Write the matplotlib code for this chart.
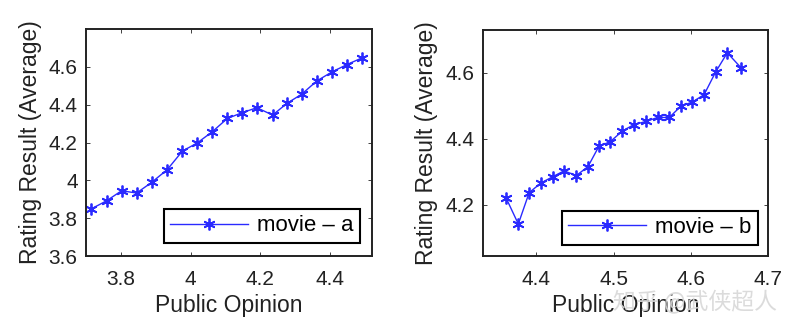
import matplotlib
matplotlib.use("Agg")
import matplotlib.pyplot as plt

plt.rcParams["font.family"] = ["Liberation Sans", "DejaVu Sans"]

# movie - a
opinion_a = [3.714, 3.759, 3.802, 3.845, 3.888, 3.933, 3.976, 4.019, 4.062, 4.105,
             4.148, 4.190, 4.235, 4.276, 4.318, 4.362, 4.405, 4.448, 4.492]
rating_a = [3.848, 3.892, 3.945, 3.933, 3.989, 4.057, 4.154, 4.198, 4.257, 4.327,
            4.358, 4.384, 4.345, 4.407, 4.455, 4.526, 4.573, 4.612, 4.648]

# movie - b
opinion_b = [4.361, 4.377, 4.391, 4.406, 4.422, 4.436, 4.452, 4.467, 4.481, 4.496,
             4.511, 4.526, 4.542, 4.557, 4.572, 4.587, 4.602, 4.617, 4.632, 4.647, 4.665]
rating_b = [4.222, 4.142, 4.237, 4.266, 4.286, 4.303, 4.289, 4.316, 4.377, 4.392,
            4.423, 4.443, 4.453, 4.465, 4.465, 4.499, 4.512, 4.534, 4.603, 4.661, 4.615]

panels = [
    dict(x=opinion_a, y=rating_a, label="movie \u2013 a",
         xlim=(3.7, 4.52), ylim=(3.6, 4.8),
         xticks=[3.8, 4.0, 4.2, 4.4], xtl=["3.8", "4", "4.2", "4.4"],
         yticks=[3.6, 3.8, 4.0, 4.2, 4.4, 4.6], ytl=["3.6", "3.8", "4", "4.2", "4.4", "4.6"],
         pos=[0.1078, 0.2335, 0.3584, 0.6796], anchor=(0.958, 0.057)),
    dict(x=opinion_b, y=rating_b, label="movie \u2013 b",
         xlim=(4.331, 4.7), ylim=(4.045, 4.73),
         xticks=[4.4, 4.5, 4.6, 4.7], xtl=["4.4", "4.5", "4.6", "4.7"],
         yticks=[4.2, 4.4, 4.6], ytl=["4.2", "4.4", "4.6"],
         pos=[0.6049, 0.2335, 0.3579, 0.6766], anchor=(0.964, 0.049)),
]

fig = plt.figure(figsize=(7.98, 3.34), dpi=100)

for p in panels:
    ax = fig.add_axes(p["pos"])
    ax.plot(p["x"], p["y"], color="#2a2aff", linewidth=1.0,
            marker=(6, 2, 0), markersize=8.5, markeredgewidth=1.3,
            markeredgecolor="#2a2aff", label=p["label"])
    ax.set_xlim(*p["xlim"])
    ax.set_ylim(*p["ylim"])
    ax.set_xticks(p["xticks"])
    ax.set_xticklabels(p["xtl"])
    ax.set_yticks(p["yticks"])
    ax.set_yticklabels(p["ytl"])
    ax.tick_params(direction="in", top=True, right=True, length=3,
                   width=0.6, labelsize=15, colors="#222222")
    ax.tick_params(axis="x", pad=10)
    ax.tick_params(axis="y", pad=6)
    for s in ax.spines.values():
        s.set_linewidth(1.4)
        s.set_color("#222222")
    ax.set_xlabel("Public Opinion", fontsize=16.5, labelpad=4, color="#222222")
    ax.set_ylabel("Rating Result (Average)", fontsize=16.5, labelpad=5, color="#222222")
    leg = ax.legend(loc="lower right", bbox_to_anchor=p["anchor"], borderaxespad=0,
                    fontsize=16, fancybox=False, handlelength=3.5,
                    borderpad=0.3, handletextpad=0.4, framealpha=1)
    leg.get_frame().set_edgecolor("black")
    leg.get_frame().set_linewidth(1.5)

# watermark
fig.text(0.768, 0.095, "知乎 @武侠超人", fontsize=16.5, color="#d8d8d8", alpha=0.9,
         family=["Noto Sans CJK SC", "DejaVu Sans"], ha="left", va="center", zorder=10)

fig.savefig("out.png", dpi=100)
